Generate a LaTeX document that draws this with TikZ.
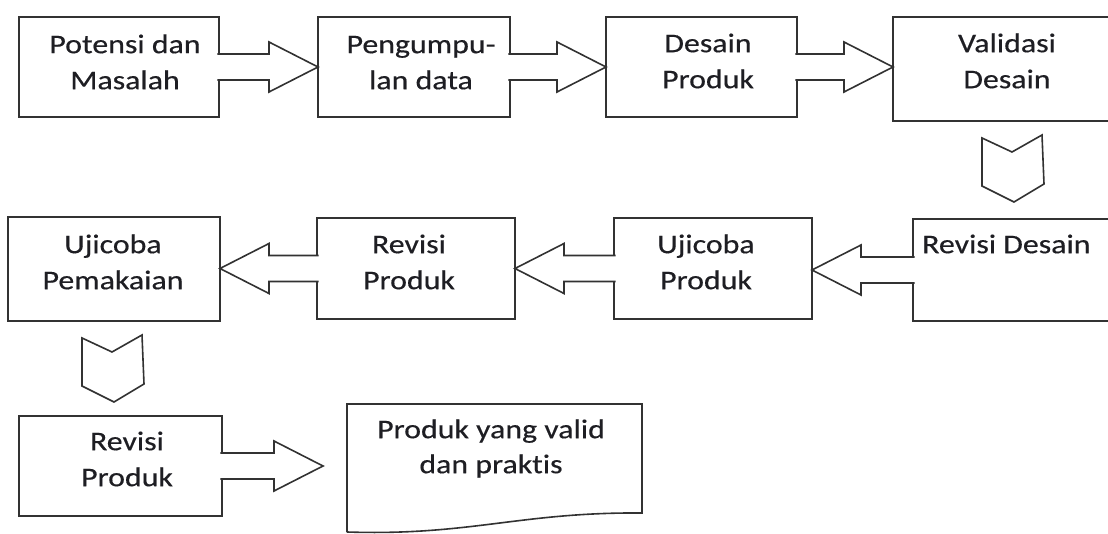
\documentclass[tikz,border=0pt]{standalone}
\usepackage{fontspec}
\setmainfont{Carlito}[FakeStretch=1.18, Ligatures=NoCommon, FakeBold=0.4]
\usetikzlibrary{calc}
\definecolor{linec}{RGB}{50,50,50}
\definecolor{textc}{RGB}{30,30,35}
\tikzset{
  box/.style={draw=linec, line width=1.6pt, fill=white, rectangle, inner sep=0pt, outer sep=0pt, anchor=north west},
  txt/.style={font=\fontsize{27}{36}\selectfont, align=center, inner sep=0pt, anchor=north, text=textc},
  barrow/.style={draw=linec, fill=white, line width=1.6pt, line join=miter},
  chev/.style={draw=linec, line width=1.6pt, line join=miter},
}
\newcommand\rarrow[2]{%
  \filldraw[barrow] let \p1=(#1), \p2=(#2) in
   (\x1-1.6pt,\y2+13pt) -- (\x2-49pt,\y2+13pt) -- (\x2-49pt,\y2+25pt) -- (\x2,\y2)
   -- (\x2-49pt,\y2-25pt) -- (\x2-49pt,\y2-13pt) -- (\x1-1.6pt,\y2-13pt);}
\newcommand\larrow[2]{%
  \filldraw[barrow] let \p1=(#1), \p2=(#2) in
   (\x1+1.6pt,\y2+13pt) -- (\x2+49pt,\y2+13pt) -- (\x2+49pt,\y2+25pt) -- (\x2,\y2)
   -- (\x2+49pt,\y2-25pt) -- (\x2+49pt,\y2-13pt) -- (\x1+1.6pt,\y2-13pt);}
\newcommand\chevron[1]{% #1 = notch point
  \draw[chev] ($(#1)+(-30,-14)$) -- (#1) -- ($(#1)+(30,-17)$) -- ($(#1)+(32,32)$)
   -- ($(#1)+(2,50)$) -- ($(#1)+(-30,34)$) -- cycle;}
\begin{document}
\begin{tikzpicture}[x=1pt,y=-1pt]
\clip (0,0) rectangle (1108,534);
\fill[white] (0,0) rectangle (1108,534);
% row 1 boxes
\node[box, minimum width=200pt, minimum height=100pt] (b1) at (19,17) {};
\node[box, minimum width=192pt, minimum height=100pt] (b2) at (318,17) {};
\node[box, minimum width=191pt, minimum height=100pt] (b3) at (606,17) {};
\node[box, minimum width=222pt, minimum height=104pt] (b4) at (893,17) {};
% row 2 boxes
\node[box, minimum width=212pt, minimum height=104pt] (r1) at (8,217) {};
\node[box, minimum width=198pt, minimum height=101pt] (r2) at (317,218) {};
\node[box, minimum width=198pt, minimum height=101pt] (r3) at (614,218) {};
\node[box, minimum width=202pt, minimum height=102pt] (r4) at (913,219) {};
% row 3
\node[box, minimum width=203pt, minimum height=100pt] (s1) at (19,416) {};
\coordinate (dtl) at (347,404);
\coordinate (dtr) at (642,404);
\coordinate (dbr) at (642,513);
\coordinate (dbl) at (347,532);
\draw[draw=linec, line width=1.6pt, line join=miter] (dbl) -- (dtl) -- (dtr) -- (dbr)
  .. controls (520,512) and (470,536) .. (dbl);
% arrows
\rarrow{b1.east}{b2.west}
\rarrow{b2.east}{b3.west}
\rarrow{b3.east}{b4.west|-b3.east}
\larrow{r4.west}{r3.east|-r4.west}
\larrow{r3.west}{r2.east}
\larrow{r2.west}{r1.east|-r2.west}
\coordinate (t3) at (323,466);
\rarrow{s1.east}{t3}
% chevrons
\coordinate (v1) at (1012,152);
\chevron{v1}
\coordinate (v2) at (112,352);
\chevron{v2}
% texts
\node[txt] (tb1) at (125,17) {\rule{0pt}{36pt}Potensi dan\\Masalah};
\node[txt] (tb2) at (421,17) {\rule{0pt}{36pt}Pengumpu-\\lan data};
\node[txt] (tb3) at (708,16) {\rule{0pt}{36pt}Desain\\Produk};
\node[txt] (tb4) at (1007,16) {\rule{0pt}{36pt}Validasi\\Desain};
\node[txt, anchor=north west, align=left] (tr4) at (922,217) {\rule{0pt}{36pt}Revisi Desain};
\node[txt] (tr3) at (706,217) {\rule{0pt}{36pt}Ujicoba\\Produk};
\node[txt] (tr2) at (409,217) {\rule{0pt}{36pt}Revisi\\Produk};
\node[txt] (tr1) at (113,217) {\rule{0pt}{36pt}Ujicoba\\Pemakaian};
\node[txt] (ts1) at (127,414) {\rule{0pt}{36pt}Revisi\\Produk};
\node[txt, font=\fontsize{27}{35}\selectfont] (td) at (491,402) {\rule{0pt}{36pt}Produk yang valid\\dan praktis};
\end{tikzpicture}
\end{document}
